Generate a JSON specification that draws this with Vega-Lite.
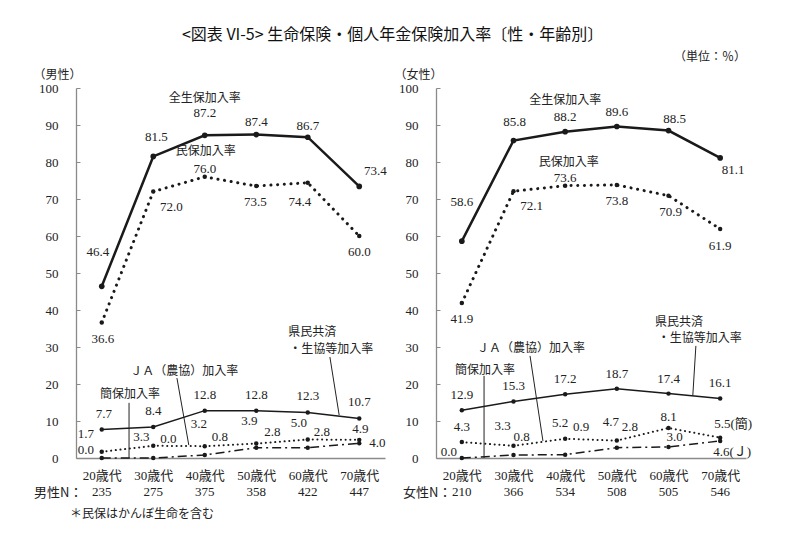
{
  "$schema": "https://vega.github.io/schema/vega-lite/v6.json",
  "padding": {"left": 32, "top": 27, "right": 5, "bottom": 5},
  "bounds": "flush",
  "spacing": 51,
  "background": "white",
  "title": {"text": "<図表 VI-5> 生命保険・個人年金保険加入率〔性・年齢別〕", "font": "Noto Sans CJK JP", "fontSize": 16, "fontWeight": "normal", "anchor": "middle", "offset": 8, "color": "#111"},
  "config": {
    "view": {"stroke": null},
    "axis": {"grid": false, "labelOverlap": false, "domainColor": "#8a8a8a", "domainWidth": 1.3, "tickColor": "#8a8a8a", "labelColor": "#222", "labelFont": "Liberation Serif, Noto Sans CJK JP", "labelFontSize": 13, "titleFont": "Noto Sans CJK JP", "titleFontWeight": "normal", "titleColor": "#222", "titleFontSize": 12},
    "text": {"font": "Liberation Serif, Noto Sans CJK JP", "fontSize": 13, "color": "#222"},
    "line": {"color": "#1a1a1a"},
    "rule": {"color": "#222", "strokeWidth": 1}
  },
  "datasets": {
    "men": [
      {"s": "全生保", "i": 0, "v": 46.4, "label": "46.4"},
      {"s": "全生保", "i": 1, "v": 81.5, "label": "81.5"},
      {"s": "全生保", "i": 2, "v": 87.2, "label": "87.2"},
      {"s": "全生保", "i": 3, "v": 87.4, "label": "87.4"},
      {"s": "全生保", "i": 4, "v": 86.7, "label": "86.7"},
      {"s": "全生保", "i": 5, "v": 73.4, "label": "73.4"},
      {"s": "民保", "i": 0, "v": 36.6, "label": "36.6"},
      {"s": "民保", "i": 1, "v": 72.0, "label": "72.0"},
      {"s": "民保", "i": 2, "v": 76.0, "label": "76.0"},
      {"s": "民保", "i": 3, "v": 73.5, "label": "73.5"},
      {"s": "民保", "i": 4, "v": 74.4, "label": "74.4"},
      {"s": "民保", "i": 5, "v": 60.0, "label": "60.0"},
      {"s": "県民共済", "i": 0, "v": 7.7, "label": "7.7"},
      {"s": "県民共済", "i": 1, "v": 8.4, "label": "8.4"},
      {"s": "県民共済", "i": 2, "v": 12.8, "label": "12.8"},
      {"s": "県民共済", "i": 3, "v": 12.8, "label": "12.8"},
      {"s": "県民共済", "i": 4, "v": 12.3, "label": "12.3"},
      {"s": "県民共済", "i": 5, "v": 10.7, "label": "10.7"},
      {"s": "簡保", "i": 0, "v": 1.7, "label": "1.7"},
      {"s": "簡保", "i": 1, "v": 3.3, "label": "3.3"},
      {"s": "簡保", "i": 2, "v": 3.2, "label": "3.2"},
      {"s": "簡保", "i": 3, "v": 3.9, "label": "3.9"},
      {"s": "簡保", "i": 4, "v": 5.0, "label": "5.0"},
      {"s": "簡保", "i": 5, "v": 4.9, "label": "4.9"},
      {"s": "JA", "i": 0, "v": 0.0, "label": "0.0"},
      {"s": "JA", "i": 1, "v": 0.0, "label": "0.0"},
      {"s": "JA", "i": 2, "v": 0.8, "label": "0.8"},
      {"s": "JA", "i": 3, "v": 2.8, "label": "2.8"},
      {"s": "JA", "i": 4, "v": 2.8, "label": "2.8"},
      {"s": "JA", "i": 5, "v": 4.0, "label": "4.0"}
    ],
    "women": [
      {"s": "全生保", "i": 0, "v": 58.6, "label": "58.6"},
      {"s": "全生保", "i": 1, "v": 85.8, "label": "85.8"},
      {"s": "全生保", "i": 2, "v": 88.2, "label": "88.2"},
      {"s": "全生保", "i": 3, "v": 89.6, "label": "89.6"},
      {"s": "全生保", "i": 4, "v": 88.5, "label": "88.5"},
      {"s": "全生保", "i": 5, "v": 81.1, "label": "81.1"},
      {"s": "民保", "i": 0, "v": 41.9, "label": "41.9"},
      {"s": "民保", "i": 1, "v": 72.1, "label": "72.1"},
      {"s": "民保", "i": 2, "v": 73.6, "label": "73.6"},
      {"s": "民保", "i": 3, "v": 73.8, "label": "73.8"},
      {"s": "民保", "i": 4, "v": 70.9, "label": "70.9"},
      {"s": "民保", "i": 5, "v": 61.9, "label": "61.9"},
      {"s": "県民共済", "i": 0, "v": 12.9, "label": "12.9"},
      {"s": "県民共済", "i": 1, "v": 15.3, "label": "15.3"},
      {"s": "県民共済", "i": 2, "v": 17.2, "label": "17.2"},
      {"s": "県民共済", "i": 3, "v": 18.7, "label": "18.7"},
      {"s": "県民共済", "i": 4, "v": 17.4, "label": "17.4"},
      {"s": "県民共済", "i": 5, "v": 16.1, "label": "16.1"},
      {"s": "簡保", "i": 0, "v": 4.3, "label": "4.3"},
      {"s": "簡保", "i": 1, "v": 3.3, "label": "3.3"},
      {"s": "簡保", "i": 2, "v": 5.2, "label": "5.2"},
      {"s": "簡保", "i": 3, "v": 4.7, "label": "4.7"},
      {"s": "簡保", "i": 4, "v": 8.1, "label": "8.1"},
      {"s": "簡保", "i": 5, "v": 5.5, "label": "5.5(簡)"},
      {"s": "JA", "i": 0, "v": 0.0, "label": "0.0"},
      {"s": "JA", "i": 1, "v": 0.8, "label": "0.8"},
      {"s": "JA", "i": 2, "v": 0.9, "label": "0.9"},
      {"s": "JA", "i": 3, "v": 2.8, "label": "2.8"},
      {"s": "JA", "i": 4, "v": 3.0, "label": "3.0"},
      {"s": "JA", "i": 5, "v": 4.6, "label": "4.6(Ｊ)"}
    ],
    "nmen": [
      {"i": 0, "n": 235}, {"i": 1, "n": 275}, {"i": 2, "n": 375},
      {"i": 3, "n": 358}, {"i": 4, "n": 422}, {"i": 5, "n": 447}
    ],
    "nwomen": [
      {"i": 0, "n": 210}, {"i": 1, "n": 366}, {"i": 2, "n": 534},
      {"i": 3, "n": 508}, {"i": 4, "n": 505}, {"i": 5, "n": 546}
    ]
  },
  "hconcat": [
    {
      "width": 309, "height": 370,
      "layer": [
        {"data": {"name": "men"}, "transform": [{"filter": "datum.s === '全生保'"}], "mark": {"type": "line", "strokeWidth": 2.5},
          "encoding": {
            "x": {"field": "i", "type": "quantitative", "scale": {"domain": [-0.5, 5.5], "nice": false, "zero": false},
              "axis": {"values": [0, 1, 2, 3, 4, 5], "labelExpr": "(datum.value*10+20)+'歳代'", "ticks": false, "labelPadding": 11, "title": "男性N：", "titleX": 6, "titleY": 34, "titleAlign": "right", "titleBaseline": "middle", "titleAngle": 0, "titleFontSize": 13}},
            "y": {"field": "v", "type": "quantitative", "scale": {"domain": [0, 100], "nice": false},
              "axis": {"values": [0, 10, 20, 30, 40, 50, 60, 70, 80, 90, 100], "tickCount": 11, "labelOverlap": false, "tickSize": -4, "labelPadding": 22, "title": "（男性）", "titleAngle": 0, "titleX": -19, "titleY": -14, "titleAlign": "center", "titleBaseline": "middle"}}
          }},
        {"data": {"name": "men"}, "transform": [{"filter": "datum.s === '民保'"}], "mark": {"type": "line", "strokeWidth": 3, "strokeDash": [0.1, 6.6], "strokeCap": "round"},
          "encoding": {"x": {"field": "i", "type": "quantitative"}, "y": {"field": "v", "type": "quantitative"}}},
        {"data": {"name": "men"}, "transform": [{"filter": "datum.s === '県民共済'"}], "mark": {"type": "line", "strokeWidth": 1.5},
          "encoding": {"x": {"field": "i", "type": "quantitative"}, "y": {"field": "v", "type": "quantitative"}}},
        {"data": {"name": "men"}, "transform": [{"filter": "datum.s === '簡保'"}], "mark": {"type": "line", "strokeWidth": 2, "strokeDash": [0.1, 4.6], "strokeCap": "round"},
          "encoding": {"x": {"field": "i", "type": "quantitative"}, "y": {"field": "v", "type": "quantitative"}}},
        {"data": {"name": "men"}, "transform": [{"filter": "datum.s === 'JA'"}], "mark": {"type": "line", "strokeWidth": 1.5, "strokeDash": [9, 4, 2, 4]},
          "encoding": {"x": {"field": "i", "type": "quantitative"}, "y": {"field": "v", "type": "quantitative"}}},
        {"data": {"name": "men"}, "mark": {"type": "circle", "color": "#1a1a1a", "opacity": 1},
          "encoding": {"x": {"field": "i", "type": "quantitative"}, "y": {"field": "v", "type": "quantitative"},
            "size": {"condition": {"test": "datum.s === '全生保'", "value": 32}, "value": 20}}},
        {"data": {"name": "men"}, "mark": {"type": "text", "align": "center", "baseline": "middle",
            "dx": {"expr": "datum.s === '全生保' ? [-4,3,0,0,0,16][datum.i] : datum.s === '民保' ? [1,18,0,-1,-8,0][datum.i] : datum.s === '県民共済' ? [2,0,0,0,0,0][datum.i] : datum.s === '簡保' ? [-16,-12,-6,-7,-9,1][datum.i] : [-16,15,15,16,14,18][datum.i]"},
            "dy": {"expr": "datum.s === '全生保' ? [-34,-19,-22,-13,-11,-15][datum.i] : datum.s === '民保' ? [16,15,-8,16,19,16][datum.i] : datum.s === '県民共済' ? -16 : datum.s === '簡保' ? [-18,-9,-22,-23,-17,-11][datum.i] : [-8,-19,-18,-16,-16,0][datum.i]"}},
          "encoding": {"x": {"field": "i", "type": "quantitative"}, "y": {"field": "v", "type": "quantitative"}, "text": {"field": "label"}}},
        {"data": {"name": "nmen"},
          "mark": {"type": "text", "align": "center", "baseline": "middle", "dy": 34, "fontSize": 13},
          "encoding": {"x": {"field": "i", "type": "quantitative"}, "y": {"datum": 0}, "text": {"field": "n"}}},
        {"data": {"values": [{}]}, "mark": {"type": "text", "align": "left", "baseline": "middle", "dx": -6, "dy": 56, "font": "Noto Sans CJK JP", "fontSize": 12},
          "encoding": {"x": {"datum": -0.5}, "y": {"datum": 0}, "text": {"value": "＊民保はかんぼ生命を含む"}}},
        {"data": {"values": [{}]}, "mark": {"type": "text", "align": "center", "baseline": "middle", "font": "Noto Sans CJK JP", "fontSize": 12},
          "encoding": {"x": {"datum": 2.0}, "y": {"datum": 97.3}, "text": {"value": "全生保加入率"}}},
        {"data": {"values": [{}]}, "mark": {"type": "text", "align": "center", "baseline": "middle", "font": "Noto Sans CJK JP", "fontSize": 12},
          "encoding": {"x": {"datum": 2.02}, "y": {"datum": 83.0}, "text": {"value": "民保加入率"}}},
        {"data": {"values": [{}]}, "mark": {"type": "text", "align": "center", "baseline": "middle", "font": "Noto Sans CJK JP", "fontSize": 12},
          "encoding": {"x": {"datum": 0.55}, "y": {"datum": 17.3}, "text": {"value": "簡保加入率"}}},
        {"data": {"values": [{}]}, "mark": {"type": "text", "align": "center", "baseline": "middle", "font": "Noto Sans CJK JP", "fontSize": 12},
          "encoding": {"x": {"datum": 1.6}, "y": {"datum": 23.5}, "text": {"value": "ＪＡ（農協）加入率"}}},
        {"data": {"values": [{}]}, "mark": {"type": "text", "align": "left", "baseline": "middle", "font": "Noto Sans CJK JP", "fontSize": 12},
          "encoding": {"x": {"datum": 3.62}, "y": {"datum": 34.1}, "text": {"value": "県民共済"}}},
        {"data": {"values": [{}]}, "mark": {"type": "text", "align": "left", "baseline": "middle", "font": "Noto Sans CJK JP", "fontSize": 12},
          "encoding": {"x": {"datum": 3.64}, "y": {"datum": 29.5}, "text": {"value": "・生協等加入率"}}},
        {"data": {"values": [{}]}, "mark": {"type": "rule"},
          "encoding": {"x": {"datum": 0.53}, "x2": {"datum": 0.53}, "y": {"datum": 14.9}, "y2": {"datum": 0}}},
        {"data": {"values": [{}]}, "mark": {"type": "rule"},
          "encoding": {"x": {"datum": 1.46}, "x2": {"datum": 1.69}, "y": {"datum": 21.6}, "y2": {"datum": 3.5}}},
        {"data": {"values": [{}]}, "mark": {"type": "rule"},
          "encoding": {"x": {"datum": 4.43}, "x2": {"datum": 4.61}, "y": {"datum": 27.3}, "y2": {"datum": 11.6}}}
      ]
    },
    {
      "width": 310, "height": 370,
      "layer": [
        {"data": {"name": "women"}, "transform": [{"filter": "datum.s === '全生保'"}], "mark": {"type": "line", "strokeWidth": 2.5},
          "encoding": {
            "x": {"field": "i", "type": "quantitative", "scale": {"domain": [-0.5, 5.5], "nice": false, "zero": false},
              "axis": {"values": [0, 1, 2, 3, 4, 5], "labelExpr": "(datum.value*10+20)+'歳代'", "ticks": false, "labelPadding": 11, "title": "女性N：", "titleX": 15, "titleY": 34, "titleAlign": "right", "titleBaseline": "middle", "titleAngle": 0, "titleFontSize": 13}},
            "y": {"field": "v", "type": "quantitative", "scale": {"domain": [0, 100], "nice": false},
              "axis": {"values": [0, 10, 20, 30, 40, 50, 60, 70, 80, 90, 100], "tickCount": 11, "labelOverlap": false, "tickSize": -4, "labelPadding": 22, "title": "（女性）", "titleAngle": 0, "titleX": -18, "titleY": -14, "titleAlign": "center", "titleBaseline": "middle"}}
          }},
        {"data": {"name": "women"}, "transform": [{"filter": "datum.s === '民保'"}], "mark": {"type": "line", "strokeWidth": 3, "strokeDash": [0.1, 6.6], "strokeCap": "round"},
          "encoding": {"x": {"field": "i", "type": "quantitative"}, "y": {"field": "v", "type": "quantitative"}}},
        {"data": {"name": "women"}, "transform": [{"filter": "datum.s === '県民共済'"}], "mark": {"type": "line", "strokeWidth": 1.5},
          "encoding": {"x": {"field": "i", "type": "quantitative"}, "y": {"field": "v", "type": "quantitative"}}},
        {"data": {"name": "women"}, "transform": [{"filter": "datum.s === '簡保'"}], "mark": {"type": "line", "strokeWidth": 2, "strokeDash": [0.1, 4.6], "strokeCap": "round"},
          "encoding": {"x": {"field": "i", "type": "quantitative"}, "y": {"field": "v", "type": "quantitative"}}},
        {"data": {"name": "women"}, "transform": [{"filter": "datum.s === 'JA'"}], "mark": {"type": "line", "strokeWidth": 1.5, "strokeDash": [9, 4, 2, 4]},
          "encoding": {"x": {"field": "i", "type": "quantitative"}, "y": {"field": "v", "type": "quantitative"}}},
        {"data": {"name": "women"}, "mark": {"type": "circle", "color": "#1a1a1a", "opacity": 1},
          "encoding": {"x": {"field": "i", "type": "quantitative"}, "y": {"field": "v", "type": "quantitative"},
            "size": {"condition": {"test": "datum.s === '全生保'", "value": 32}, "value": 20}}},
        {"data": {"name": "women"}, "mark": {"type": "text", "align": "center", "baseline": "middle",
            "dx": {"expr": "datum.s === '全生保' ? [0,1,0,0,6,13][datum.i] : datum.s === '民保' ? [0,18,0,0,2,0][datum.i] : datum.s === '県民共済' ? 0 : datum.s === '簡保' ? [0,-11,-5,-6,0,13][datum.i] : [-13,8,16,13,6,12][datum.i]"},
            "dy": {"expr": "datum.s === '全生保' ? [-39,-19,-15,-14,-12,12][datum.i] : datum.s === '民保' ? [16,15,-8,16,16,17][datum.i] : datum.s === '県民共済' ? -15 : datum.s === '簡保' ? [-15,-20,-16,-19,-11,-14][datum.i] : [-6,-18,-28,-21,-10,11][datum.i]"}},
          "encoding": {"x": {"field": "i", "type": "quantitative"}, "y": {"field": "v", "type": "quantitative"}, "text": {"field": "label"}}},
        {"data": {"name": "nwomen"},
          "mark": {"type": "text", "align": "center", "baseline": "middle", "dy": 34, "fontSize": 13},
          "encoding": {"x": {"field": "i", "type": "quantitative"}, "y": {"datum": 0}, "text": {"field": "n"}}},
        {"data": {"values": [{}]}, "mark": {"type": "text", "align": "right", "baseline": "middle", "dy": -31, "font": "Noto Sans CJK JP", "fontSize": 12},
          "encoding": {"x": {"datum": 5.5}, "y": {"datum": 100}, "text": {"value": "（単位：％）"}}},
        {"data": {"values": [{}]}, "mark": {"type": "text", "align": "center", "baseline": "middle", "font": "Noto Sans CJK JP", "fontSize": 12},
          "encoding": {"x": {"datum": 2.0}, "y": {"datum": 96.8}, "text": {"value": "全生保加入率"}}},
        {"data": {"values": [{}]}, "mark": {"type": "text", "align": "center", "baseline": "middle", "font": "Noto Sans CJK JP", "fontSize": 12},
          "encoding": {"x": {"datum": 2.07}, "y": {"datum": 80.0}, "text": {"value": "民保加入率"}}},
        {"data": {"values": [{}]}, "mark": {"type": "text", "align": "center", "baseline": "middle", "font": "Noto Sans CJK JP", "fontSize": 12},
          "encoding": {"x": {"datum": 0.45}, "y": {"datum": 23.8}, "text": {"value": "簡保加入率"}}},
        {"data": {"values": [{}]}, "mark": {"type": "text", "align": "center", "baseline": "middle", "font": "Noto Sans CJK JP", "fontSize": 12},
          "encoding": {"x": {"datum": 1.34}, "y": {"datum": 29.7}, "text": {"value": "ＪＡ（農協）加入率"}}},
        {"data": {"values": [{}]}, "mark": {"type": "text", "align": "left", "baseline": "middle", "font": "Noto Sans CJK JP", "fontSize": 12},
          "encoding": {"x": {"datum": 3.74}, "y": {"datum": 36.8}, "text": {"value": "県民共済"}}},
        {"data": {"values": [{}]}, "mark": {"type": "text", "align": "left", "baseline": "middle", "font": "Noto Sans CJK JP", "fontSize": 12},
          "encoding": {"x": {"datum": 3.79}, "y": {"datum": 32.4}, "text": {"value": "・生協等加入率"}}},
        {"data": {"values": [{}]}, "mark": {"type": "rule"},
          "encoding": {"x": {"datum": 0.43}, "x2": {"datum": 0.43}, "y": {"datum": 22.2}, "y2": {"datum": 0}}},
        {"data": {"values": [{}]}, "mark": {"type": "rule"},
          "encoding": {"x": {"datum": 1.32}, "x2": {"datum": 1.57}, "y": {"datum": 27.6}, "y2": {"datum": 4.6}}},
        {"data": {"values": [{}]}, "mark": {"type": "rule"},
          "encoding": {"x": {"datum": 4.53}, "x2": {"datum": 4.47}, "y": {"datum": 30.3}, "y2": {"datum": 16.8}}}
      ]
    }
  ]
}
